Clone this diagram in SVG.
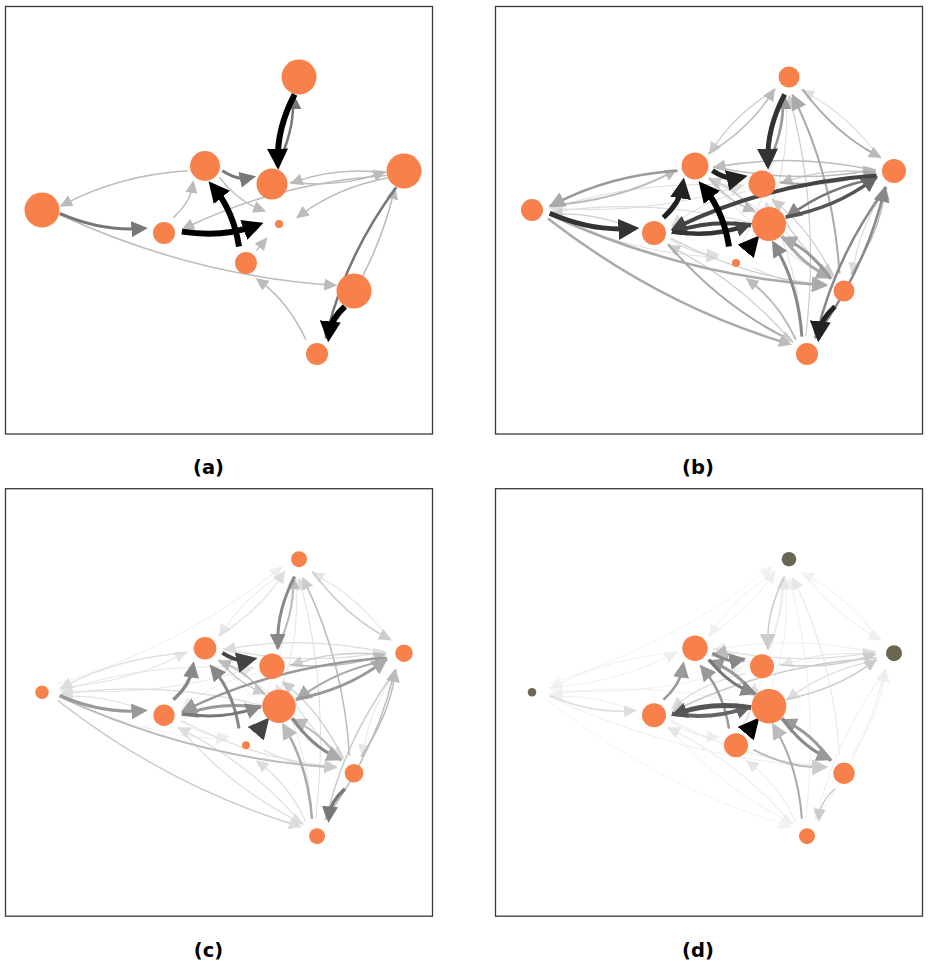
<svg xmlns="http://www.w3.org/2000/svg" xmlns:xlink="http://www.w3.org/1999/xlink" width="928" height="971" viewBox="0 0 928 971">
<style>
.frame{fill:none;stroke:#3a3a3a;stroke-width:1.3}
.lbl{font-family:"DejaVu Sans",sans-serif;font-weight:bold;font-size:19.5px;text-anchor:middle;fill:#000}
.n{fill:#f8804b}
.nd{fill:#6b6652}
.ep{fill:none}
use{stroke-linecap:butt}
</style>
<defs>
<marker id="l-000" markerUnits="userSpaceOnUse" markerWidth="21" markerHeight="21" refX="12" refY="10.5" orient="auto"><path d="M0,0L21,10.5L0,21z" fill="#000"/></marker>
<marker id="l-222" markerUnits="userSpaceOnUse" markerWidth="21" markerHeight="21" refX="12" refY="10.5" orient="auto"><path d="M0,0L21,10.5L0,21z" fill="#222"/></marker>
<marker id="l-333" markerUnits="userSpaceOnUse" markerWidth="21" markerHeight="21" refX="12" refY="10.5" orient="auto"><path d="M0,0L21,10.5L0,21z" fill="#333"/></marker>
<marker id="l-444" markerUnits="userSpaceOnUse" markerWidth="21" markerHeight="21" refX="12" refY="10.5" orient="auto"><path d="M0,0L21,10.5L0,21z" fill="#444"/></marker>
<marker id="m-444" markerUnits="userSpaceOnUse" markerWidth="16.5" markerHeight="16" refX="9" refY="8" orient="auto"><path d="M0,0L16.5,8L0,16z" fill="#444"/></marker>
<marker id="m-555" markerUnits="userSpaceOnUse" markerWidth="16.5" markerHeight="16" refX="9" refY="8" orient="auto"><path d="M0,0L16.5,8L0,16z" fill="#555"/></marker>
<marker id="m-666" markerUnits="userSpaceOnUse" markerWidth="16.5" markerHeight="16" refX="9" refY="8" orient="auto"><path d="M0,0L16.5,8L0,16z" fill="#666"/></marker>
<marker id="m-777" markerUnits="userSpaceOnUse" markerWidth="16.5" markerHeight="16" refX="9" refY="8" orient="auto"><path d="M0,0L16.5,8L0,16z" fill="#777"/></marker>
<marker id="m-888" markerUnits="userSpaceOnUse" markerWidth="16.5" markerHeight="16" refX="9" refY="8" orient="auto"><path d="M0,0L16.5,8L0,16z" fill="#888"/></marker>
<marker id="m-999" markerUnits="userSpaceOnUse" markerWidth="16.5" markerHeight="16" refX="9" refY="8" orient="auto"><path d="M0,0L16.5,8L0,16z" fill="#999"/></marker>
<marker id="m-aaa" markerUnits="userSpaceOnUse" markerWidth="16.5" markerHeight="16" refX="9" refY="8" orient="auto"><path d="M0,0L16.5,8L0,16z" fill="#aaa"/></marker>
<marker id="m-bbb" markerUnits="userSpaceOnUse" markerWidth="16.5" markerHeight="16" refX="9" refY="8" orient="auto"><path d="M0,0L16.5,8L0,16z" fill="#bbb"/></marker>
<marker id="m-ccc" markerUnits="userSpaceOnUse" markerWidth="16.5" markerHeight="16" refX="9" refY="8" orient="auto"><path d="M0,0L16.5,8L0,16z" fill="#ccc"/></marker>
<marker id="s-aaa" markerUnits="userSpaceOnUse" markerWidth="13" markerHeight="12" refX="6.5" refY="6" orient="auto"><path d="M0,0L13,6L0,12z" fill="#aaa"/></marker>
<marker id="s-bbb" markerUnits="userSpaceOnUse" markerWidth="13" markerHeight="12" refX="6.5" refY="6" orient="auto"><path d="M0,0L13,6L0,12z" fill="#bbb"/></marker>
<marker id="s-ccc" markerUnits="userSpaceOnUse" markerWidth="13" markerHeight="12" refX="6.5" refY="6" orient="auto"><path d="M0,0L13,6L0,12z" fill="#ccc"/></marker>
<marker id="s-ddd" markerUnits="userSpaceOnUse" markerWidth="13" markerHeight="12" refX="6.5" refY="6" orient="auto"><path d="M0,0L13,6L0,12z" fill="#ddd"/></marker>
<marker id="s-e6" markerUnits="userSpaceOnUse" markerWidth="13" markerHeight="12" refX="6.5" refY="6" orient="auto"><path d="M0,0L13,6L0,12z" fill="#e6e6e6"/></marker>
<marker id="s-eee" markerUnits="userSpaceOnUse" markerWidth="13" markerHeight="12" refX="6.5" refY="6" orient="auto"><path d="M0,0L13,6L0,12z" fill="#eee"/></marker>
<marker id="s-f0" markerUnits="userSpaceOnUse" markerWidth="13" markerHeight="12" refX="6.5" refY="6" orient="auto"><path d="M0,0L13,6L0,12z" fill="#f2f2f2"/></marker>

<path id="e01" class="ep" d="M307.4,84 Q339,127.4 381.1,150"/>
<path id="e10" class="ep" d="M385.6,154 Q354,110.6 311.9,88"/>
<path id="e20" class="ep" d="M53,196.7 Q176.1,159.1 272.7,83"/>
<path id="e03" class="ep" d="M280.9,84.4 Q239.9,109 217.4,144.5"/>
<path id="e30" class="ep" d="M213.1,148.6 Q254.1,124 276.6,88.5"/>
<path id="e04" class="ep" d="M289.6,89.4 Q271.9,123.3 272.9,155.7"/>
<path id="e40" class="ep" d="M271.4,161.6 Q289.1,127.7 288.1,95.3"/>
<path id="e60" class="ep" d="M276.4,201.2 Q295.8,147.1 290.8,95.8"/>
<path id="e70" class="ep" d="M246.1,240.7 Q282.4,169.2 287.4,95.1"/>
<path id="e80" class="ep" d="M344.5,268.6 Q338.6,174.6 300,95.2"/>
<path id="e90" class="ep" d="M310.8,331 Q325.2,209.1 295.6,96"/>
<path id="e13" class="ep" d="M381,165.6 Q299.9,147.6 224,161.6"/>
<path id="e31" class="ep" d="M218,161.4 Q299.1,179.4 375,165.4"/>
<path id="e14" class="ep" d="M381.1,167.8 Q332,161.9 290.9,176.6"/>
<path id="e41" class="ep" d="M284.9,177.2 Q334,183.1 375.1,168.4"/>
<path id="e15" class="ep" d="M381.6,170.5 Q274,177.8 182.2,222"/>
<path id="e16" class="ep" d="M382.4,173 Q332.3,182.5 296.1,209.6"/>
<path id="e61" class="ep" d="M290.6,212 Q340.7,202.5 376.9,175.4"/>
<path id="e18" class="ep" d="M392.1,182.6 Q364.4,222 358.2,263.8"/>
<path id="e81" class="ep" d="M355.9,269.4 Q383.6,230 389.8,188.2"/>
<path id="e19" class="ep" d="M391.3,182.3 Q340.9,250.5 322.3,327.3"/>
<path id="e91" class="ep" d="M319.7,332.7 Q370.1,264.5 388.7,187.7"/>
<path id="e23" class="ep" d="M54.4,200.3 Q122,196 176.8,167.3"/>
<path id="e32" class="ep" d="M182.6,165.7 Q115,170 60.2,198.7"/>
<path id="e24" class="ep" d="M54.9,203 Q154.1,210.4 243.1,181.7"/>
<path id="e42" class="ep" d="M249.1,181 Q149.9,173.6 60.9,202.3"/>
<path id="e25" class="ep" d="M54.7,208.3 Q96.2,226.3 135.4,223.6"/>
<path id="e52" class="ep" d="M141.3,224.7 Q99.8,206.7 60.6,209.4"/>
<path id="e62" class="ep" d="M256,217.9 Q156.6,193 61,206.4"/>
<path id="e27" class="ep" d="M54.4,209.5 Q134.8,247.8 217.8,252"/>
<path id="e28" class="ep" d="M54.4,209.5 Q186.5,270.5 325.8,280"/>
<path id="e29" class="ep" d="M52.9,213.4 Q163,299 290.7,337.9"/>
<path id="e34" class="ep" d="M217.4,165.7 Q232.1,175.4 243.8,172.8"/>
<path id="e43" class="ep" d="M249.6,174.3 Q234.9,164.6 223.2,167.2"/>
<path id="e53" class="ep" d="M168.4,212.6 Q184.9,197.8 187.5,181.5"/>
<path id="e36" class="ep" d="M214.2,172.1 Q232.4,195.9 255.1,204.2"/>
<path id="e63" class="ep" d="M259.8,207.9 Q241.6,184.1 218.9,175.8"/>
<path id="e73" class="ep" d="M234,241.4 Q228.3,206.2 209.3,183.1"/>
<path id="e38" class="ep" d="M213.8,172.6 Q264.5,235.4 330.6,270.6"/>
<path id="e83" class="ep" d="M335.2,274.4 Q284.5,211.6 218.4,176.4"/>
<path id="e45" class="ep" d="M250.6,186.4 Q209.1,194.9 180.9,218.1"/>
<path id="e74" class="ep" d="M246.6,240.9 Q260.3,220.6 259.5,201.8"/>
<path id="e48" class="ep" d="M277.9,193.3 Q299.4,239.1 334.4,266.9"/>
<path id="e84" class="ep" d="M338.1,271.7 Q316.6,225.9 281.6,198.1"/>
<path id="e94" class="ep" d="M307.4,331.6 Q303.1,260.4 273.1,202.2"/>
<path id="e56" class="ep" d="M176.9,226.6 Q217.2,232.7 250.1,220.9"/>
<path id="e65" class="ep" d="M256.1,220.4 Q215.8,214.3 182.9,226.1"/>
<path id="e57" class="ep" d="M175.9,234.2 Q197.6,249.6 218.5,249.7"/>
<path id="e58" class="ep" d="M176.2,233.3 Q249.4,272.2 326.1,279"/>
<path id="e59" class="ep" d="M173.1,239.2 Q225.8,300.7 293.2,334.1"/>
<path id="e95" class="ep" d="M297.9,337.8 Q245.2,276.3 177.8,242.9"/>
<path id="e76" class="ep" d="M251.6,245.5 L258.5,237.3"/>
<path id="e68" class="ep" d="M287.4,231 Q306.1,258.5 331.1,270"/>
<path id="e86" class="ep" d="M335.6,274 Q316.9,246.5 291.9,235"/>
<path id="e96" class="ep" d="M306.9,331.7 Q303.4,281 280.7,242"/>
<path id="e78" class="ep" d="M258.4,262.5 Q292.8,280.6 325.8,280"/>
<path id="e97" class="ep" d="M300.9,334.8 Q283.8,297.8 255.8,276.9"/>
<path id="e89" class="ep" d="M339.9,301.5 Q325.5,314.5 324.1,328.3"/>
</defs>

<!-- Panel (a) -->
<g id="panel-a" transform="translate(5,5)">
<rect class="frame" x="0.5" y="1.5" width="427" height="427.5"/>
<g id="a-edges">
<use href="#e91" stroke="#bbb" stroke-width="1.5" marker-end="url(#s-bbb)"/>
<use href="#e32" stroke="#bbb" stroke-width="1.5" marker-end="url(#s-bbb)"/>
<use href="#e28" stroke="#bbb" stroke-width="1.5" marker-end="url(#s-bbb)"/>
<use href="#e97" stroke="#bbb" stroke-width="1.5" marker-end="url(#s-bbb)"/>
<use href="#e14" stroke="#bbb" stroke-width="1.5" marker-end="url(#s-bbb)"/>
<use href="#e41" stroke="#bbb" stroke-width="1.5" marker-end="url(#s-bbb)"/>
<use href="#e15" stroke="#bbb" stroke-width="1.5" marker-end="url(#s-bbb)"/>
<use href="#e16" stroke="#bbb" stroke-width="1.5" marker-end="url(#s-bbb)"/>
<use href="#e36" stroke="#bbb" stroke-width="1.5" marker-end="url(#s-bbb)"/>
<use href="#e53" stroke="#bbb" stroke-width="1.5" marker-end="url(#s-bbb)"/>
<use href="#e76" stroke="#bbb" stroke-width="1.5" marker-end="url(#s-bbb)"/>
<use href="#e40" stroke="#777" stroke-width="2.5" marker-end="url(#m-777)"/>
<use href="#e34" stroke="#777" stroke-width="3" marker-end="url(#m-777)"/>
<use href="#e25" stroke="#777" stroke-width="3" marker-end="url(#m-777)"/>
<use href="#e19" stroke="#777" stroke-width="2.5" marker-end="url(#m-777)"/>
<use href="#e04" stroke="#000" stroke-width="6" marker-end="url(#l-000)"/>
<use href="#e56" stroke="#000" stroke-width="6" marker-end="url(#l-000)"/>
<use href="#e73" stroke="#000" stroke-width="6" marker-end="url(#l-000)"/>
<use href="#e89" stroke="#000" stroke-width="6" marker-end="url(#l-000)"/>
</g>
<g id="a-n0"><circle class="n" cx="294" cy="72" r="17.5"/></g>
<g id="a-n1"><circle class="n" cx="399" cy="166" r="17.5"/></g>
<g id="a-n2"><circle class="n" cx="37" cy="205" r="17.5"/></g>
<g id="a-n3"><circle class="n" cx="200" cy="161" r="15"/></g>
<g id="a-n4"><circle class="n" cx="267" cy="179" r="15.5"/></g>
<g id="a-n5"><circle class="n" cx="159" cy="228" r="11"/></g>
<g id="a-n6"><circle class="n" cx="274" cy="219" r="4"/></g>
<g id="a-n7"><circle class="n" cx="241" cy="258" r="11"/></g>
<g id="a-n8"><circle class="n" cx="349" cy="286" r="17.5"/></g>
<g id="a-n9"><circle class="n" cx="312" cy="349" r="11"/></g>
</g>

<!-- Panel (b) -->
<g id="panel-b" transform="translate(495,5)">
<rect class="frame" x="0.5" y="1.5" width="427" height="427.5"/>
<g id="b-edges">
<use href="#e70" stroke="#e0e0e0" stroke-width="1" marker-end="url(#s-ddd)"/>
<use href="#e27" stroke="#e0e0e0" stroke-width="1" marker-end="url(#s-ddd)"/>
<use href="#e38" stroke="#e0e0e0" stroke-width="1" marker-end="url(#s-ddd)"/>
<use href="#e60" stroke="#ddd" stroke-width="1" marker-end="url(#s-ddd)"/>
<use href="#e42" stroke="#ddd" stroke-width="1" marker-end="url(#s-ddd)"/>
<use href="#e83" stroke="#ddd" stroke-width="1" marker-end="url(#s-ddd)"/>
<use href="#e94" stroke="#ddd" stroke-width="1" marker-end="url(#s-ddd)"/>
<use href="#e45" stroke="#ddd" stroke-width="1" marker-end="url(#s-ddd)"/>
<use href="#e10" stroke="#ddd" stroke-width="1.2" marker-end="url(#s-ddd)"/>
<use href="#e24" stroke="#ddd" stroke-width="1.2" marker-end="url(#s-ddd)"/>
<use href="#e62" stroke="#ddd" stroke-width="1.2" marker-end="url(#s-ddd)"/>
<use href="#e57" stroke="#ddd" stroke-width="1.2" marker-end="url(#s-ddd)"/>
<use href="#e78" stroke="#ddd" stroke-width="1.2" marker-end="url(#s-ddd)"/>
<use href="#e18" stroke="#ddd" stroke-width="1.2" marker-end="url(#s-ddd)"/>
<use href="#e03" stroke="#ccc" stroke-width="1.2" marker-end="url(#s-ccc)"/>
<use href="#e90" stroke="#ccc" stroke-width="1.2" marker-end="url(#s-ccc)"/>
<use href="#e52" stroke="#ccc" stroke-width="1.2" marker-end="url(#s-ccc)"/>
<use href="#e48" stroke="#ccc" stroke-width="1.2" marker-end="url(#s-ccc)"/>
<use href="#e84" stroke="#ccc" stroke-width="1.2" marker-end="url(#s-ccc)"/>
<use href="#e95" stroke="#ccc" stroke-width="1.2" marker-end="url(#s-ccc)"/>
<use href="#e58" stroke="#ccc" stroke-width="1.2" marker-end="url(#s-ccc)"/>
<use href="#e63" stroke="#ccc" stroke-width="1.5" marker-end="url(#s-ccc)"/>
<use href="#e14" stroke="#ccc" stroke-width="1.5" marker-end="url(#s-bbb)"/>
<use href="#e30" stroke="#bbb" stroke-width="1.5" marker-end="url(#s-bbb)"/>
<use href="#e13" stroke="#bbb" stroke-width="1.5" marker-end="url(#s-bbb)"/>
<use href="#e31" stroke="#bbb" stroke-width="1.5" marker-end="url(#s-bbb)"/>
<use href="#e81" stroke="#bbb" stroke-width="1.5" marker-end="url(#s-bbb)"/>
<use href="#e36" stroke="#bbb" stroke-width="1.5" marker-end="url(#s-bbb)"/>
<use href="#e23" stroke="#bbb" stroke-width="2" marker-end="url(#s-bbb)"/>
<use href="#e97" stroke="#bbb" stroke-width="2" marker-end="url(#s-bbb)"/>
<use href="#e01" stroke="#aaa" stroke-width="2" marker-end="url(#s-bbb)"/>
<use href="#e41" stroke="#aaa" stroke-width="2" marker-end="url(#s-aaa)"/>
<use href="#e80" stroke="#aaa" stroke-width="2" marker-end="url(#m-aaa)"/>
<use href="#e59" stroke="#aaa" stroke-width="2" marker-end="url(#s-ccc)"/>
<use href="#e29" stroke="#aaa" stroke-width="2.5" marker-end="url(#s-bbb)"/>
<use href="#e28" stroke="#aaa" stroke-width="2.5" marker-end="url(#m-aaa)"/>
<use href="#e68" stroke="#aaa" stroke-width="3" marker-end="url(#m-aaa)"/>
<use href="#e86" stroke="#999" stroke-width="3" marker-end="url(#m-aaa)"/>
<use href="#e40" stroke="#999" stroke-width="2.5" marker-end="url(#m-999)"/>
<use href="#e32" stroke="#999" stroke-width="2.5" marker-end="url(#m-aaa)"/>
<use href="#e91" stroke="#888" stroke-width="2.5" marker-end="url(#m-888)"/>
<use href="#e19" stroke="#888" stroke-width="2.5" marker-end="url(#m-888)"/>
<use href="#e96" stroke="#888" stroke-width="3" marker-end="url(#m-888)"/>
<use href="#e16" stroke="#777" stroke-width="2.5" marker-end="url(#m-888)"/>
<use href="#e61" stroke="#555" stroke-width="3.5" marker-end="url(#m-666)"/>
<use href="#e65" stroke="#444" stroke-width="4" marker-end="url(#m-444)"/>
<use href="#e15" stroke="#444" stroke-width="4" marker-end="url(#m-444)"/>
<use href="#e56" stroke="#333" stroke-width="4.5" marker-end="url(#m-444)"/>
<use href="#e04" stroke="#333" stroke-width="5" marker-end="url(#l-333)"/>
<use href="#e25" stroke="#333" stroke-width="5" marker-end="url(#l-333)"/>
<use href="#e34" stroke="#222" stroke-width="5" marker-end="url(#l-222)"/>
<use href="#e53" stroke="#222" stroke-width="5" marker-end="url(#l-222)"/>
<use href="#e89" stroke="#222" stroke-width="5" marker-end="url(#l-222)"/>
<use href="#e73" stroke="#000" stroke-width="6" marker-end="url(#l-000)"/>
<use href="#e76" stroke="#000" stroke-width="5" marker-end="url(#l-000)"/>
</g>
<g id="b-n0"><circle class="n" cx="294" cy="72" r="10.5"/></g>
<g id="b-n1"><circle class="n" cx="399" cy="166" r="12"/></g>
<g id="b-n2"><circle class="n" cx="37" cy="205" r="11"/></g>
<g id="b-n3"><circle class="n" cx="200" cy="161" r="13.5"/></g>
<g id="b-n4"><circle class="n" cx="267" cy="179" r="13.5"/></g>
<g id="b-n5"><circle class="n" cx="159" cy="228" r="12"/></g>
<g id="b-n6"><circle class="n" cx="274" cy="219" r="17"/></g>
<g id="b-n7"><circle class="n" cx="241" cy="258" r="4"/></g>
<g id="b-n8"><circle class="n" cx="349" cy="286" r="10.5"/></g>
<g id="b-n9"><circle class="n" cx="312" cy="349" r="11"/></g>
</g>

<!-- Panel (c) -->
<g id="panel-c" transform="translate(5,487.2)">
<rect class="frame" x="0.5" y="1.5" width="427" height="427.5"/>
<g id="c-edges">
<use href="#e70" stroke="#eee" stroke-width="1" marker-end="url(#s-eee)"/>
<use href="#e20" stroke="#eee" stroke-width="1" marker-end="url(#s-eee)"/>
<use href="#e27" stroke="#eee" stroke-width="1" marker-end="url(#s-eee)"/>
<use href="#e57" stroke="#eee" stroke-width="1" marker-end="url(#s-eee)"/>
<use href="#e38" stroke="#eee" stroke-width="1" marker-end="url(#s-eee)"/>
<use href="#e45" stroke="#eee" stroke-width="1" marker-end="url(#s-eee)"/>
<use href="#e03" stroke="#e6e6e6" stroke-width="1" marker-end="url(#s-e6)"/>
<use href="#e10" stroke="#e6e6e6" stroke-width="1.2" marker-end="url(#s-e6)"/>
<use href="#e60" stroke="#e6e6e6" stroke-width="1" marker-end="url(#s-e6)"/>
<use href="#e23" stroke="#e6e6e6" stroke-width="1.2" marker-end="url(#s-e6)"/>
<use href="#e24" stroke="#e6e6e6" stroke-width="1" marker-end="url(#s-e6)"/>
<use href="#e42" stroke="#e6e6e6" stroke-width="1" marker-end="url(#s-e6)"/>
<use href="#e18" stroke="#e6e6e6" stroke-width="1" marker-end="url(#s-e6)"/>
<use href="#e83" stroke="#e6e6e6" stroke-width="1" marker-end="url(#s-e6)"/>
<use href="#e94" stroke="#e6e6e6" stroke-width="1" marker-end="url(#s-e6)"/>
<use href="#e30" stroke="#ddd" stroke-width="1.2" marker-end="url(#s-ddd)"/>
<use href="#e90" stroke="#ddd" stroke-width="1" marker-end="url(#s-ddd)"/>
<use href="#e32" stroke="#ddd" stroke-width="1.2" marker-end="url(#s-ddd)"/>
<use href="#e52" stroke="#ddd" stroke-width="1.2" marker-end="url(#s-ddd)"/>
<use href="#e62" stroke="#ddd" stroke-width="1.2" marker-end="url(#s-ddd)"/>
<use href="#e97" stroke="#ddd" stroke-width="1.2" marker-end="url(#s-ddd)"/>
<use href="#e59" stroke="#ddd" stroke-width="1.2" marker-end="url(#s-ddd)"/>
<use href="#e13" stroke="#ddd" stroke-width="1.2" marker-end="url(#s-ddd)"/>
<use href="#e31" stroke="#ddd" stroke-width="1.2" marker-end="url(#s-ddd)"/>
<use href="#e48" stroke="#ddd" stroke-width="1.2" marker-end="url(#s-ddd)"/>
<use href="#e78" stroke="#ddd" stroke-width="1.2" marker-end="url(#s-ddd)"/>
<use href="#e95" stroke="#ddd" stroke-width="1.2" marker-end="url(#s-ddd)"/>
<use href="#e58" stroke="#ddd" stroke-width="1.2" marker-end="url(#s-ddd)"/>
<use href="#e29" stroke="#ccc" stroke-width="1.5" marker-end="url(#s-ddd)"/>
<use href="#e01" stroke="#ccc" stroke-width="1.5" marker-end="url(#s-ccc)"/>
<use href="#e19" stroke="#ccc" stroke-width="1.5" marker-end="url(#s-ccc)"/>
<use href="#e14" stroke="#ccc" stroke-width="1.5" marker-end="url(#s-ccc)"/>
<use href="#e84" stroke="#ccc" stroke-width="1.2" marker-end="url(#s-ccc)"/>
<use href="#e36" stroke="#ccc" stroke-width="1.5" marker-end="url(#s-ccc)"/>
<use href="#e80" stroke="#bbb" stroke-width="1.5" marker-end="url(#s-ccc)"/>
<use href="#e40" stroke="#bbb" stroke-width="2" marker-end="url(#s-bbb)"/>
<use href="#e28" stroke="#bbb" stroke-width="2" marker-end="url(#s-ccc)"/>
<use href="#e91" stroke="#bbb" stroke-width="1.5" marker-end="url(#s-bbb)"/>
<use href="#e41" stroke="#bbb" stroke-width="1.5" marker-end="url(#s-bbb)"/>
<use href="#e81" stroke="#bbb" stroke-width="1.5" marker-end="url(#s-bbb)"/>
<use href="#e63" stroke="#bbb" stroke-width="1.5" marker-end="url(#s-bbb)"/>
<use href="#e86" stroke="#bbb" stroke-width="2" marker-end="url(#m-bbb)"/>
<use href="#e16" stroke="#aaa" stroke-width="2" marker-end="url(#m-aaa)"/>
<use href="#e96" stroke="#aaa" stroke-width="2.5" marker-end="url(#m-bbb)"/>
<use href="#e65" stroke="#999" stroke-width="3" marker-end="url(#m-999)"/>
<use href="#e15" stroke="#999" stroke-width="2.5" marker-end="url(#m-999)"/>
<use href="#e61" stroke="#999" stroke-width="3" marker-end="url(#m-aaa)"/>
<use href="#e25" stroke="#999" stroke-width="3" marker-end="url(#m-999)"/>
<use href="#e04" stroke="#888" stroke-width="3" marker-end="url(#m-888)"/>
<use href="#e53" stroke="#888" stroke-width="3.5" marker-end="url(#m-888)"/>
<use href="#e73" stroke="#888" stroke-width="3" marker-end="url(#m-888)"/>
<use href="#e68" stroke="#888" stroke-width="3" marker-end="url(#m-aaa)"/>
<use href="#e56" stroke="#777" stroke-width="3" marker-end="url(#m-888)"/>
<use href="#e89" stroke="#777" stroke-width="3.5" marker-end="url(#m-777)"/>
<use href="#e34" stroke="#444" stroke-width="4" marker-end="url(#l-444)"/>
<use href="#e76" stroke="#444" stroke-width="4" marker-end="url(#l-444)"/>
</g>
<g id="c-n0"><circle class="n" cx="294" cy="72" r="8"/></g>
<g id="c-n1"><circle class="n" cx="399" cy="166" r="8.7"/></g>
<g id="c-n2"><circle class="n" cx="37" cy="205" r="6.7"/></g>
<g id="c-n3"><circle class="n" cx="200" cy="161" r="11.3"/></g>
<g id="c-n4"><circle class="n" cx="267" cy="179" r="12.7"/></g>
<g id="c-n5"><circle class="n" cx="159" cy="228" r="10.7"/></g>
<g id="c-n6"><circle class="n" cx="274" cy="219" r="16.7"/></g>
<g id="c-n7"><circle class="n" cx="241" cy="258" r="4"/></g>
<g id="c-n8"><circle class="n" cx="349" cy="286" r="9.3"/></g>
<g id="c-n9"><circle class="n" cx="312" cy="349" r="8"/></g>
</g>

<!-- Panel (d) -->
<g id="panel-d" transform="translate(495,487.2)">
<rect class="frame" x="0.5" y="1.5" width="427" height="427.5"/>
<g id="d-edges">
<use href="#e03" stroke="#f0f0f0" stroke-width="1" marker-end="url(#s-f0)"/>
<use href="#e10" stroke="#f0f0f0" stroke-width="1" marker-end="url(#s-f0)"/>
<use href="#e70" stroke="#f0f0f0" stroke-width="1" marker-end="url(#s-f0)"/>
<use href="#e20" stroke="#f3f3f3" stroke-width="1" marker-end="url(#s-f0)"/>
<use href="#e32" stroke="#f0f0f0" stroke-width="1" marker-end="url(#s-f0)"/>
<use href="#e24" stroke="#f0f0f0" stroke-width="1" marker-end="url(#s-f0)"/>
<use href="#e29" stroke="#f3f3f3" stroke-width="1" marker-end="url(#s-f0)"/>
<use href="#e62" stroke="#f0f0f0" stroke-width="1" marker-end="url(#s-f0)"/>
<use href="#e59" stroke="#f0f0f0" stroke-width="1" marker-end="url(#s-f0)"/>
<use href="#e30" stroke="#eee" stroke-width="1" marker-end="url(#s-eee)"/>
<use href="#e01" stroke="#eee" stroke-width="1" marker-end="url(#s-eee)"/>
<use href="#e90" stroke="#eee" stroke-width="1" marker-end="url(#s-eee)"/>
<use href="#e60" stroke="#eee" stroke-width="1" marker-end="url(#s-eee)"/>
<use href="#e23" stroke="#eee" stroke-width="1" marker-end="url(#s-eee)"/>
<use href="#e28" stroke="#eee" stroke-width="1" marker-end="url(#s-eee)"/>
<use href="#e52" stroke="#eee" stroke-width="1" marker-end="url(#s-eee)"/>
<use href="#e91" stroke="#eee" stroke-width="1" marker-end="url(#s-eee)"/>
<use href="#e19" stroke="#eee" stroke-width="1" marker-end="url(#s-eee)"/>
<use href="#e57" stroke="#eee" stroke-width="1" marker-end="url(#s-eee)"/>
<use href="#e13" stroke="#eee" stroke-width="1" marker-end="url(#s-eee)"/>
<use href="#e81" stroke="#eee" stroke-width="1" marker-end="url(#s-eee)"/>
<use href="#e40" stroke="#e6e6e6" stroke-width="1.2" marker-end="url(#s-e6)"/>
<use href="#e80" stroke="#e6e6e6" stroke-width="1" marker-end="url(#s-e6)"/>
<use href="#e97" stroke="#e6e6e6" stroke-width="1" marker-end="url(#s-e6)"/>
<use href="#e14" stroke="#e6e6e6" stroke-width="1" marker-end="url(#s-e6)"/>
<use href="#e95" stroke="#e6e6e6" stroke-width="1" marker-end="url(#s-e6)"/>
<use href="#e58" stroke="#e6e6e6" stroke-width="1" marker-end="url(#s-e6)"/>
<use href="#e16" stroke="#ddd" stroke-width="1.2" marker-end="url(#s-ddd)"/>
<use href="#e25" stroke="#ddd" stroke-width="1.5" marker-end="url(#s-ddd)"/>
<use href="#e31" stroke="#ddd" stroke-width="1.2" marker-end="url(#s-ddd)"/>
<use href="#e45" stroke="#ddd" stroke-width="1.2" marker-end="url(#s-ddd)"/>
<use href="#e74" stroke="#ddd" stroke-width="1.2" marker-end="url(#s-ddd)"/>
<use href="#e15" stroke="#ccc" stroke-width="1.5" marker-end="url(#s-ccc)"/>
<use href="#e61" stroke="#ccc" stroke-width="1.5" marker-end="url(#s-ccc)"/>
<use href="#e41" stroke="#ccc" stroke-width="1.5" marker-end="url(#s-ccc)"/>
<use href="#e89" stroke="#ccc" stroke-width="1.5" marker-end="url(#s-ccc)"/>
<use href="#e04" stroke="#ccc" stroke-width="1.5" marker-end="url(#m-ccc)"/>
<use href="#e78" stroke="#bbb" stroke-width="2" marker-end="url(#m-ccc)"/>
<use href="#e43" stroke="#aaa" stroke-width="2.5" marker-end="url(#m-bbb)"/>
<use href="#e96" stroke="#aaa" stroke-width="2" marker-end="url(#m-bbb)"/>
<use href="#e53" stroke="#999" stroke-width="2.5" marker-end="url(#m-999)"/>
<use href="#e73" stroke="#999" stroke-width="2.5" marker-end="url(#m-999)"/>
<use href="#e63" stroke="#999" stroke-width="3" marker-end="url(#m-999)"/>
<use href="#e86" stroke="#999" stroke-width="3" marker-end="url(#m-999)"/>
<use href="#e34" stroke="#888" stroke-width="3" marker-end="url(#m-888)"/>
<use href="#e36" stroke="#777" stroke-width="3" marker-end="url(#m-888)"/>
<use href="#e68" stroke="#888" stroke-width="3" marker-end="url(#m-999)"/>
<use href="#e56" stroke="#666" stroke-width="4" marker-end="url(#m-666)"/>
<use href="#e65" stroke="#555" stroke-width="5" marker-end="url(#m-555)"/>
<use href="#e76" stroke="#000" stroke-width="5" marker-end="url(#l-000)"/>
</g>
<g id="d-n0"><circle class="nd" cx="294" cy="72" r="7.3"/></g>
<g id="d-n1"><circle class="nd" cx="399" cy="166" r="8"/></g>
<g id="d-n2"><circle class="nd" cx="37" cy="205" r="4.3"/></g>
<g id="d-n3"><circle class="n" cx="200" cy="161" r="12.7"/></g>
<g id="d-n4"><circle class="n" cx="267" cy="179" r="12"/></g>
<g id="d-n5"><circle class="n" cx="159" cy="228" r="12"/></g>
<g id="d-n6"><circle class="n" cx="274" cy="219" r="17.3"/></g>
<g id="d-n7"><circle class="n" cx="241" cy="258" r="12"/></g>
<g id="d-n8"><circle class="n" cx="349" cy="286" r="10.7"/></g>
<g id="d-n9"><circle class="n" cx="312" cy="349" r="8"/></g>
</g>

<text class="lbl" x="208.5" y="474">(a)</text>
<text class="lbl" x="698" y="474">(b)</text>
<text class="lbl" x="208.5" y="957">(c)</text>
<text class="lbl" x="698" y="957">(d)</text>
</svg>
